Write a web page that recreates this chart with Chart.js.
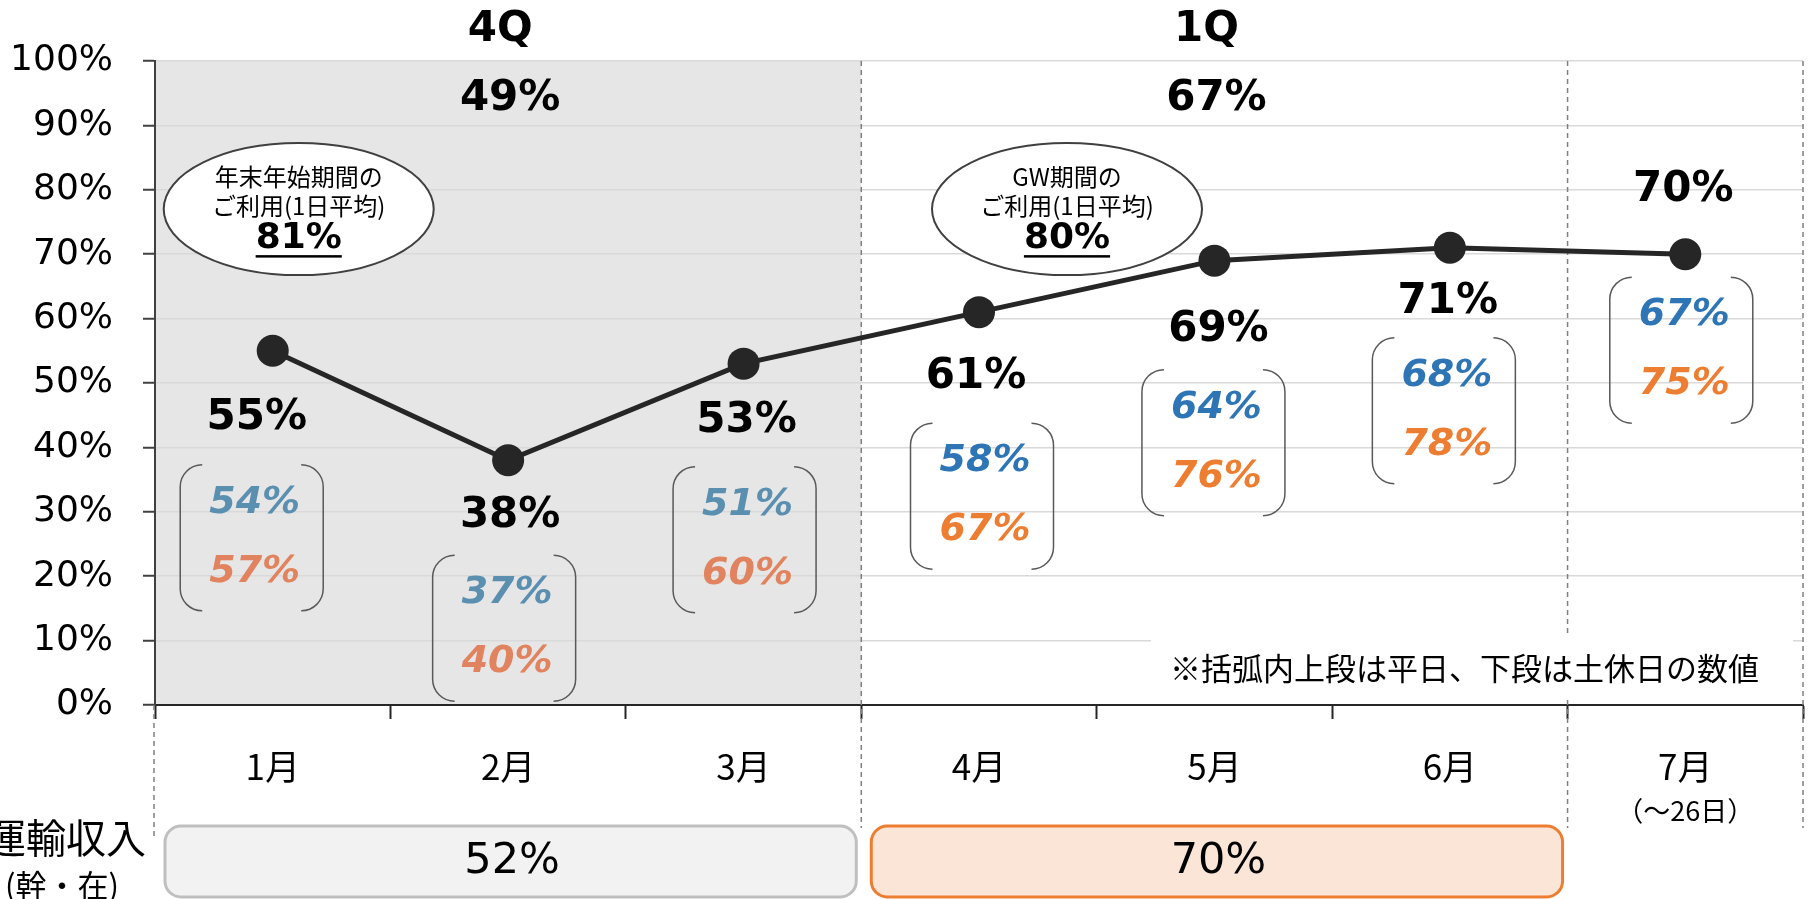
<!DOCTYPE html>
<html>
<head>
<meta charset="utf-8">
<script src="https://cdn.jsdelivr.net/npm/chart.js@4.4.1/dist/chart.umd.min.js"></script>
<style>
  body { margin: 0; background: #fff; }
  canvas { display: block; }
</style>
</head>
<body>
<canvas id="usageChart" width="1819" height="899"></canvas>
<script>
// data
const months = ['1月', '2月', '3月', '4月', '5月', '6月', '7月'];
const monthNotes = ['', '', '', '', '', '', '（～26日）'];
const usage = [55, 38, 53, 61, 69, 71, 70];
const weekday = [54, 37, 51, 58, 64, 68, 67];
const holiday = [57, 40, 60, 67, 76, 78, 75];

const quarters = ['4Q', '1Q'];
const quarterFirst = [0, 3];
const quarterLast = [2, 5];
const quarterUsage = [49, 67];
const quarterRevenue = [52, 70];

const peakTitles = [['年末年始期間の', 'ご利用(1日平均)'], ['GW期間の', 'ご利用(1日平均)']];
const peakValues = [81, 80];
const peakMonth = [0, 3];

const revenueTitle = ['運輸収入', '(幹・在)'];
const noteText = '※括弧内上段は平日、下段は土休日の数値';

// layout (pixel offsets from the points)
const labelDx = [-16, 2, 3, -3, 4, -2, -2];
const labelDy = [67, 56, 57, 65, 69, 54, -64];
const bracketDx = [-21, -4, 1, 3, -1, -6, -4];
const bracketDy = [187, 168, 176, 184, 182, 163, 96];
const peakDx = [26, 88];

const NUM = "'DejaVu Sans', 'Noto Sans CJK JP', sans-serif";
const JP = "'Noto Sans CJK JP', sans-serif";

function boundary(x, i) {
    // pixel between category i and i+1
    return (x.getPixelForValue(i) + x.getPixelForValue(i + 1)) / 2;
}

function text(ctx, str, x, y, font, color, align) {
    ctx.font = font;
    ctx.fillStyle = color || '#000';
    ctx.textAlign = align || 'center';
    ctx.textBaseline = 'middle';
    ctx.fillText(str, x, y);
}

function bracketPair(ctx, cx, cy, w, h, r) {
    const x0 = cx - w / 2, x1 = cx + w / 2, y0 = cy - h / 2, y1 = cy + h / 2;
    ctx.beginPath();
    ctx.moveTo(x0 + r, y0);
    ctx.arcTo(x0, y0, x0, y0 + r, r);
    ctx.lineTo(x0, y1 - r);
    ctx.arcTo(x0, y1, x0 + r, y1, r);
    ctx.moveTo(x1 - r, y0);
    ctx.arcTo(x1, y0, x1, y0 + r, r);
    ctx.lineTo(x1, y1 - r);
    ctx.arcTo(x1, y1, x1 - r, y1, r);
    ctx.strokeStyle = '#595959';
    ctx.lineWidth = 1.5;
    ctx.stroke();
}

const decorations = {
    id: 'decorations',
    beforeDraw(chart) {
        const ctx = chart.ctx, a = chart.chartArea, x = chart.scales.x;
        ctx.save();
        ctx.fillStyle = '#e6e6e6';
        const right = boundary(x, quarterLast[0]);
        ctx.fillRect(a.left, a.top, right - a.left, a.bottom - a.top);
        ctx.restore();
    },
    beforeDatasetsDraw(chart) {
        const ctx = chart.ctx, a = chart.chartArea, x = chart.scales.x;
        ctx.save();
        ctx.strokeStyle = '#7f7f7f';
        ctx.lineWidth = 1.5;
        ctx.setLineDash([5, 4]);
        [boundary(x, 2), boundary(x, 5), a.right].forEach(px => {
            ctx.beginPath();
            ctx.moveTo(px, a.top);
            ctx.lineTo(px, 828);
            ctx.stroke();
        });
        ctx.beginPath();
        ctx.moveTo(a.left - 1, a.bottom);
        ctx.lineTo(a.left - 1, 836);
        ctx.stroke();
        ctx.restore();
    },
    afterDatasetsDraw(chart) {
        const ctx = chart.ctx, a = chart.chartArea, x = chart.scales.x, y = chart.scales.y;
        const pts = chart.getDatasetMeta(0).data;
        ctx.save();

        // note with white backing
        ctx.fillStyle = '#fff';
        ctx.fillRect(1151, 633, a.right - 10 - 1151, 64);
        text(ctx, noteText, 1170, 668, '31px ' + JP, '#000', 'left');

        // month values and weekday / holiday brackets
        usage.forEach((v, i) => {
            const p = pts[i];
            text(ctx, v + '%', p.x + labelDx[i], p.y + labelDy[i], 'bold 42px ' + NUM);
            const bx = p.x + bracketDx[i], by = p.y + bracketDy[i];
            bracketPair(ctx, bx, by, 143, 146, 22);
            const shaded = i <= quarterLast[0];
            text(ctx, weekday[i] + '%', bx + 3, by - 35, 'italic bold 38px ' + NUM, shaded ? '#5a8fb0' : '#2e75b6');
            text(ctx, holiday[i] + '%', bx + 3, by + 34, 'italic bold 38px ' + NUM, shaded ? '#e0835e' : '#ed7d31');
        });

        // peak period ellipses
        peakValues.forEach((v, k) => {
            const cx = x.getPixelForValue(peakMonth[k]) + peakDx[k];
            const cy = y.getPixelForValue(77);
            ctx.beginPath();
            ctx.ellipse(cx, cy, 135, 66, 0, 0, Math.PI * 2);
            ctx.fillStyle = '#fff';
            ctx.fill();
            ctx.strokeStyle = '#404040';
            ctx.lineWidth = 2;
            ctx.stroke();
            text(ctx, peakTitles[k][0], cx, cy - 32, '24px ' + JP);
            text(ctx, peakTitles[k][1], cx, cy - 3, '24px ' + JP);
            const vs = v + '%';
            text(ctx, vs, cx, cy + 30, 'bold 36px ' + NUM);
            const w = ctx.measureText(vs).width;
            ctx.fillRect(cx - w / 2, cy + 46, w, 2.5);
        });

        // quarter headings and revenue boxes
        quarters.forEach((q, k) => {
            const left = k === 0 ? a.left : boundary(x, quarterFirst[k] - 1);
            const right = boundary(x, quarterLast[k]);
            const mid = x.getPixelForValue((quarterFirst[k] + quarterLast[k]) / 2);
            text(ctx, q, mid - 8, 30, 'bold 42px ' + NUM);
            text(ctx, quarterUsage[k] + '%', mid + 2, 99, 'bold 42px ' + NUM);

            ctx.beginPath();
            ctx.roundRect(left + 10, 826, right - left - 15, 71, 16);
            ctx.fillStyle = k === 0 ? '#f2f2f2' : '#fbe5d6';
            ctx.fill();
            ctx.strokeStyle = k === 0 ? '#bfbfbf' : '#ed7d31';
            ctx.lineWidth = 3;
            ctx.stroke();
            text(ctx, quarterRevenue[k] + '%', (left + right) / 2 + 4, 862, '43px ' + NUM);
        });

        text(ctx, revenueTitle[0], 66, 838, '40px ' + JP);
        text(ctx, revenueTitle[1], 62, 885, '31px ' + JP);

        monthNotes.forEach((n, i) => {
            if (n) text(ctx, n, x.getPixelForValue(i), 811, '27px ' + JP);
        });
        ctx.restore();
    }
};

new Chart(document.getElementById('usageChart'), {
    type: 'line',
    data: {
        labels: months,
        datasets: [{
            data: usage,
            borderColor: '#262626',
            borderWidth: 5,
            pointRadius: 16,
            pointBackgroundColor: '#262626',
            pointBorderWidth: 0,
            tension: 0
        }]
    },
    options: {
        responsive: false,
        animation: false,
        layout: { padding: { left: 0, right: 7, top: 61, bottom: 0 } },
        plugins: {
            legend: { display: false },
            tooltip: { enabled: false }
        },
        scales: {
            x: {
                offset: true,
                grid: {
                    offset: true,
                    drawOnChartArea: false,
                    tickLength: 14,
                    tickColor: '#262626',
                    tickWidth: 2
                },
                border: { color: '#262626', width: 2 },
                ticks: {
                    color: '#000',
                    padding: 27,
                    font: { size: 35, family: JP }
                },
                afterFit(scale) { scale.height = 194; }
            },
            y: {
                min: 0,
                max: 100,
                ticks: {
                    stepSize: 10,
                    color: '#000',
                    padding: 30,
                    font: { size: 36, family: NUM },
                    callback: v => v + '%'
                },
                grid: {
                    color: '#d9d9d9',
                    lineWidth: 1.5,
                    tickLength: 12,
                    tickColor: '#404040',
                    tickWidth: 2
                },
                border: { color: '#404040', width: 2 },
                afterFit(scale) { scale.width = 155; }
            }
        }
    },
    plugins: [decorations]
});
</script>
</body>
</html>
